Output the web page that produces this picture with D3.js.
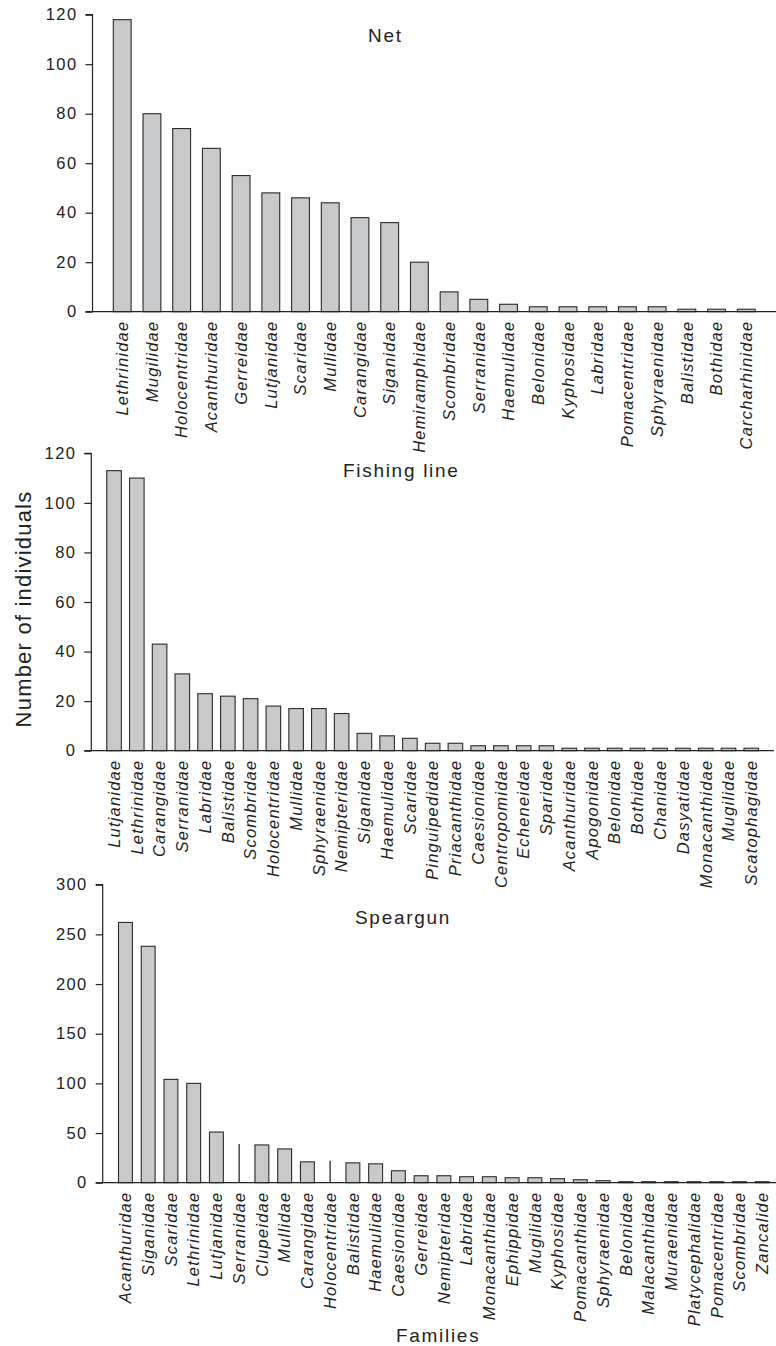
<!DOCTYPE html>
<html>
<head>
<meta charset="utf-8">
<script src="https://cdn.jsdelivr.net/npm/d3@7"></script>
<style>
  html, body { margin: 0; padding: 0; background: #fff; }
  svg text { font-family: "Liberation Sans", Arial, sans-serif; fill: #222; }
</style>
</head>
<body>
<div id="chart"></div>
<script>
// ── data ────────────────────────────────────────────────────────────────
const netFamilies = ["Lethrinidae", "Mugilidae", "Holocentridae", "Acanthuridae", "Gerreidae",
  "Lutjanidae", "Scaridae", "Mullidae", "Carangidae", "Siganidae", "Hemiramphidae", "Scombridae",
  "Serranidae", "Haemulidae", "Belonidae", "Kyphosidae", "Labridae", "Pomacentridae",
  "Sphyraenidae", "Balistidae", "Bothidae", "Carcharhinidae"];
const netCounts = [118, 80, 74, 66, 55, 48, 46, 44, 38, 36, 20, 8, 5, 3, 2, 2, 2, 2, 2, 1, 1, 1];

const lineFamilies = ["Lutjanidae", "Lethrinidae", "Carangidae", "Serranidae", "Labridae",
  "Balistidae", "Scombridae", "Holocentridae", "Mullidae", "Sphyraenidae", "Nemipteridae",
  "Siganidae", "Haemulidae", "Scaridae", "Pinguipedidae", "Priacanthidae", "Caesionidae",
  "Centropomidae", "Echeneidae", "Sparidae", "Acanthuridae", "Apogonidae", "Belonidae",
  "Bothidae", "Chanidae", "Dasyatidae", "Monacanthidae", "Mugilidae", "Scatophagidae"];
const lineCounts = [113, 110, 43, 31, 23, 22, 21, 18, 17, 17, 15, 7, 6, 5, 3, 3, 2, 2, 2, 2,
  1, 1, 1, 1, 1, 1, 1, 1, 1];

const spearFamilies = ["Acanthuridae", "Siganidae", "Scaridae", "Lethrinidae", "Lutjanidae",
  "Serranidae", "Clupeidae", "Mullidae", "Carangidae", "Holocentridae", "Balistidae",
  "Haemulidae", "Caesionidae", "Gerreidae", "Nemipteridae", "Labridae", "Monacanthidae",
  "Ephippidae", "Mugilidae", "Kyphosidae", "Pomacanthidae", "Sphyraenidae", "Belonidae",
  "Malacanthidae", "Muraenidae", "Platycephalidae", "Pomacentridae", "Scombridae", "Zancalide"];
const spearCounts = [262, 238, 104, 100, 51, 39, 38, 34, 21, 22, 20, 19, 12, 7, 7, 6, 6, 5, 5,
  4, 3, 2, 1, 1, 1, 1, 1, 1, 1];
// these two come out as a bare vertical stroke in the original figure
const spearHairline = ["Serranidae", "Holocentridae"];

const netTicks   = [0, 20, 40, 60, 80, 100, 120];
const lineTicks  = [0, 20, 40, 60, 80, 100, 120];
const spearTicks = [0, 50, 100, 150, 200, 250, 300];

// ── layout ──────────────────────────────────────────────────────────────
const W = 776, H = 1346;
const barFill   = "#c8c9cb";
const barStroke = "#2a2a2a";

const panels = [
  { title: "Net", families: netFamilies, counts: netCounts, ticks: netTicks, hair: [],
    left: 92.5, right: 776, y0: 311.7, yTop: 14.7, bw: 0.6, titleX: 368, titleY: 41.7 },
  { title: "Fishing line", families: lineFamilies, counts: lineCounts, ticks: lineTicks, hair: [],
    left: 91.3, right: 774, y0: 750.7, yTop: 453.3, bw: 0.64, titleX: 343, titleY: 476.7 },
  { title: "Speargun", families: spearFamilies, counts: spearCounts, ticks: spearTicks, hair: spearHairline,
    left: 102.7, right: 785, y0: 1182.7, yTop: 884.7, bw: 0.61, titleX: 355, titleY: 924 }
];

const svg = d3.select("#chart").append("svg")
  .attr("width", W)
  .attr("height", H);

panels.forEach(p => {
  const g = svg.append("g");

  const x = d3.scalePoint()
    .domain(p.families)
    .range([p.left, p.right])
    .padding(1);

  const y = d3.scaleLinear()
    .domain([d3.min(p.ticks), d3.max(p.ticks)])
    .range([p.y0, p.yTop]);

  const bw = x.step() * p.bw;
  const rows = p.families.map((f, i) => ({ f, v: p.counts[i] }));

  // bars
  g.selectAll("rect.bar")
    .data(rows.filter(d => !p.hair.includes(d.f)))
    .join("rect")
      .attr("class", "bar")
      .attr("x", d => x(d.f) - bw / 2)
      .attr("y", d => y(d.v))
      .attr("width", bw)
      .attr("height", d => y(0) - y(d.v))
      .attr("fill", barFill)
      .attr("stroke", barStroke)
      .attr("stroke-width", 1.1);

  g.selectAll("line.hair")
    .data(rows.filter(d => p.hair.includes(d.f)))
    .join("line")
      .attr("class", "hair")
      .attr("x1", d => x(d.f))
      .attr("x2", d => x(d.f))
      .attr("y1", d => y(d.v))
      .attr("y2", y(0))
      .attr("stroke", barStroke)
      .attr("stroke-width", 1.3);

  // y axis
  const yAxis = d3.axisLeft(y)
    .tickValues(p.ticks)
    .tickSize(7)
    .tickPadding(8)
    .tickFormat(d3.format("d"));

  const ya = g.append("g")
    .attr("transform", `translate(${p.left},0)`)
    .call(yAxis);
  ya.select(".domain").attr("stroke", "#222").attr("stroke-width", 1.2)
    .attr("d", `M-7,${y(d3.max(p.ticks))}H0V${y(0)}`);
  ya.selectAll(".tick line").attr("stroke", "#222").attr("stroke-width", 1.2);
  ya.selectAll(".tick text")
    .attr("font-size", 16.5)
    .attr("letter-spacing", "1.4px")
    .attr("fill", "#222")
    .attr("font-family", "Liberation Sans, Arial, sans-serif");

  // x baseline
  g.append("line")
    .attr("x1", p.left - 7)
    .attr("x2", Math.min(p.right, W))
    .attr("y1", y(0))
    .attr("y2", y(0))
    .attr("stroke", "#222")
    .attr("stroke-width", 1.2);

  // category labels
  g.selectAll("text.cat")
    .data(p.families)
    .join("text")
      .attr("class", "cat")
      .attr("transform", d => `translate(${x(d)},${y(0) + 9}) rotate(-90)`)
      .attr("dy", "0.35em")
      .attr("text-anchor", "end")
      .attr("font-size", 16.5)
      .attr("font-style", "italic")
      .attr("letter-spacing", "1.2px")
      .text(d => d);

  // panel title
  g.append("text")
    .attr("x", p.titleX)
    .attr("y", p.titleY)
    .attr("font-size", 19)
    .attr("letter-spacing", "1.7px")
    .text(p.title);
});

// axis titles
svg.append("text")
  .attr("transform", "translate(31,609) rotate(-90)")
  .attr("text-anchor", "middle")
  .attr("font-size", 22)
  .attr("letter-spacing", "1.2px")
  .text("Number of individuals");

svg.append("text")
  .attr("x", 396)
  .attr("y", 1341.7)
  .attr("font-size", 19)
  .attr("letter-spacing", "1.7px")
  .text("Families");
</script>
</body>
</html>
